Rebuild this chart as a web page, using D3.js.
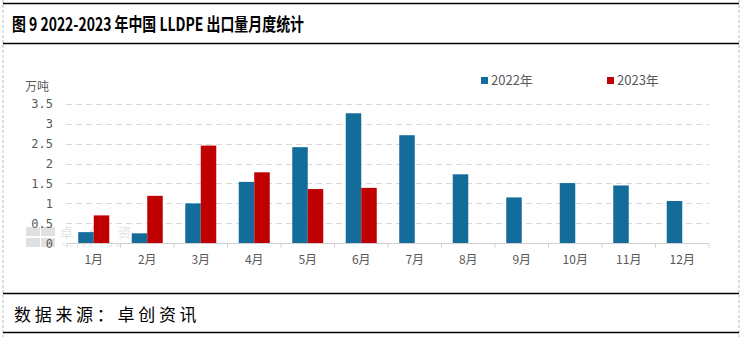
<!DOCTYPE html>
<html><head><meta charset="utf-8">
<script src="https://cdn.jsdelivr.net/npm/d3@7/dist/d3.min.js"></script>
<style>body{margin:0;background:#fff}svg{display:block}</style>
</head><body><svg id="c" width="743" height="337"></svg>
<script>
const months = ["1月","2月","3月","4月","5月","6月","7月","8月","9月","10月","11月","12月"];
const series2022 = [0.28,0.25,1.00,1.54,2.41,3.26,2.71,1.73,1.15,1.51,1.45,1.06];
const series2023 = [0.70,1.19,2.45,1.78,1.36,1.39,null,null,null,null,null,null];
const seriesNames = ["2022年","2023年"];
const yTicks = [0,0.5,1,1.5,2,2.5,3,3.5];
const colors = ["#136c9a","#c00000"];

const svg = d3.select("#c");
const W = 743, H = 337;
// frame
svg.append("line").attr("x1",3).attr("x2",3).attr("y1",0).attr("y2",H).attr("stroke","#bbb").attr("stroke-dasharray","3,2");
svg.append("line").attr("x1",739).attr("x2",739).attr("y1",0).attr("y2",H).attr("stroke","#bbb").attr("stroke-dasharray","3,2");
[3.5,43.5,293.5,332.5].forEach(y=>svg.append("line").attr("x1",3).attr("x2",739).attr("y1",y).attr("y2",y).attr("stroke","#000").attr("stroke-width",1.6));
svg.append("text").attr("x",12).attr("y",31).attr("font-family","'Noto Sans CJK SC'").attr("font-size",18).attr("font-weight","bold").attr("fill","#000").attr("textLength",292).attr("lengthAdjust","spacingAndGlyphs").text("图 9 2022-2023 年中国 LLDPE 出口量月度统计");
svg.append("text").attr("x",14).attr("y",321).attr("font-family","'Noto Sans CJK SC'").attr("font-size",17).attr("fill","#000").attr("letter-spacing",3.7).text("数据来源：卓创资讯");

const x = d3.scaleBand().domain(months).range([67,709]).paddingInner(0).paddingOuter(0);
const y = d3.scaleLinear().domain([0,3.5]).range([243.3,103.7]);

// gridlines
const g = svg.append("g");
g.selectAll(".grid").data(yTicks.filter(d=>d>0)).join("line")
  .attr("x1",66).attr("x2",709).attr("y1",d=>Math.round(y(d))+0.5).attr("y2",d=>Math.round(y(d))+0.5)
  .attr("stroke","#d9d9d9").attr("stroke-dasharray","6,4");

// watermark
const wm = svg.append("g").attr("opacity",0.55);
wm.append("rect").attr("x",26).attr("y",227).attr("width",14).attr("height",9).attr("fill","#c8c8c8");
wm.append("rect").attr("x",26).attr("y",238).attr("width",14).attr("height",9).attr("fill","#c8c8c8");
wm.append("rect").attr("x",41).attr("y",227).attr("width",14).attr("height",9).attr("fill","#c8c8c8");
wm.append("rect").attr("x",41).attr("y",238).attr("width",14).attr("height",9).attr("fill","#c8c8c8");
wm.append("text").attr("x",60).attr("y",236.5).attr("font-family","'Noto Sans CJK SC'").attr("font-size",13).attr("fill","#ccc").attr("letter-spacing",16).text("卓创资讯");
wm.append("text").attr("x",62).attr("y",247).attr("font-family","'Liberation Serif'").attr("font-size",7).attr("fill","#ccc").attr("letter-spacing",3).text("SCI99.COM");

// bars
const inner = d3.scaleBand().domain([0,1]).range([0,31]);
const bandOff = (x.bandwidth()-31)/2;
const allS = [series2022, series2023];
allS.forEach((s,si)=>{
  svg.append("g").selectAll("rect").data(months.map((m,i)=>({m,v:s[i]})).filter(d=>d.v!=null)).join("rect")
    .attr("x",d=>x(d.m)+bandOff+inner(si)).attr("width",inner.bandwidth())
    .attr("y",d=>y(d.v)).attr("height",d=>y(0)-y(d.v)).attr("fill",colors[si]);
});

// x axis
const xa = svg.append("g").attr("transform","translate(0,243.5)");
xa.append("line").attr("x1",67).attr("x2",709).attr("stroke","#d0d0d0");
xa.selectAll(".tk").data(d3.range(13)).join("line")
  .attr("x1",i=>67+i*x.step()).attr("x2",i=>67+i*x.step()).attr("y1",0).attr("y2",4).attr("stroke","#d0d0d0");
xa.selectAll("text").data(months).join("text")
  .attr("x",d=>x(d)+x.bandwidth()/2).attr("y",20).attr("text-anchor","middle")
  .attr("font-family","'Noto Sans CJK SC'").attr("font-size",12).attr("fill","#595959").text(d=>d);

// y axis labels
svg.append("g").selectAll("text").data(yTicks).join("text")
  .attr("x",53).attr("y",d=>y(d)+4.5).attr("text-anchor","end")
  .attr("font-family","'DejaVu Sans Mono'").attr("font-size",12).attr("fill","#595959").text(d=>d);
svg.append("text").attr("x",25).attr("y",91).attr("font-family","'Noto Sans CJK SC'").attr("font-size",12).attr("fill","#595959").text("万吨");

// legend
const lg = svg.append("g");
[[481,0],[607,1]].forEach(([lx,i])=>{
  lg.append("rect").attr("x",lx).attr("y",77).attr("width",7).attr("height",7).attr("fill",colors[i]);
  lg.append("text").attr("x",lx+10).attr("y",85).attr("font-family","'Noto Sans CJK SC'").attr("font-size",13).attr("fill","#595959").text(seriesNames[i]);
});
</script></body></html>
